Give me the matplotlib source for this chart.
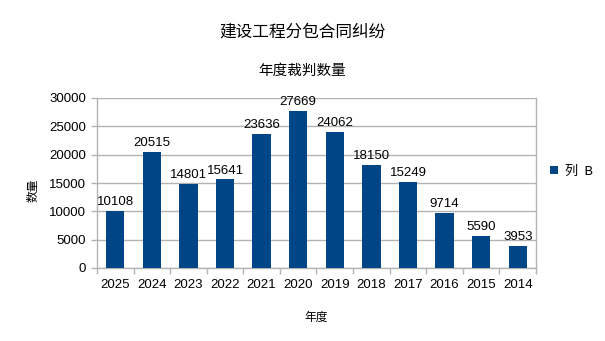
import numpy as np
import matplotlib.pyplot as plt

plt.rcParams['font.family'] = ['Liberation Sans', 'Noto Sans CJK SC', 'DejaVu Sans']

# data
years = ['2025', '2024', '2023', '2022', '2021', '2020', '2019', '2018', '2017', '2016', '2015', '2014']
counts = [10108, 20515, 14801, 15641, 23636, 27669, 24062, 18150, 15249, 9714, 5590, 3953]

bar_color = '#004586'
grid_color = '#b3b3b3'

fig = plt.figure(figsize=(6.05, 3.41), dpi=100)
ax = fig.add_axes([97 / 605, 1 - 268 / 341, (536 - 97) / 605, (268 - 98) / 341])

x = np.arange(len(years))
bars = ax.bar(x, counts, width=0.5, color=bar_color, zorder=3)

for xi, v in zip(x, counts):
    ax.text(xi, v + 500, str(v), ha='center', va='bottom', fontsize=9.5, color='black')

ax.set_xlim(-0.5, len(years) - 0.5)
ax.set_ylim(0, 30000)
ax.set_yticks(np.arange(0, 30001, 5000))
ax.yaxis.grid(True, color=grid_color, linewidth=1, zorder=0)

# category labels centered, tick marks at boundaries
ax.set_xticks(x)
ax.set_xticklabels(years, fontsize=9.5)
ax.tick_params(axis='x', length=0, pad=8)
ax.set_xticks(np.arange(-0.5, len(years)), minor=True)
ax.tick_params(axis='x', which='minor', length=4, color=grid_color, width=1)
ax.tick_params(axis='y', length=4, color=grid_color, width=1, labelsize=9.5, pad=4)

ax.spines['top'].set_visible(False)
for side in ['left', 'right', 'bottom']:
    ax.spines[side].set_color(grid_color)
    ax.spines[side].set_linewidth(1)

ax.set_xlabel('年度', fontsize=8.5, family=['Noto Sans CJK SC', 'DejaVu Sans'], labelpad=14)
ax.set_ylabel('数量', fontsize=8.5, family=['Noto Sans CJK SC', 'DejaVu Sans'])
ax.yaxis.set_label_coords(-0.13, 0.46)

fig.text(0.5, 0.905, '建设工程分包合同纠纷', ha='center', va='center', fontsize=12,
         family=['Noto Sans CJK SC', 'DejaVu Sans'])
fig.text(0.5, 0.793, '年度裁判数量', ha='center', va='center', fontsize=10.5,
         family=['Noto Sans CJK SC', 'DejaVu Sans'])

ax.legend([bars], ['列  B'], loc='center left', bbox_to_anchor=(1.005, 0.57), frameon=False,
          handlelength=0.6, handleheight=0.6, handletextpad=0.5,
          prop={'family': ['Noto Sans CJK SC', 'DejaVu Sans'], 'size': 9.5})

fig.savefig('out.png', dpi=100)
